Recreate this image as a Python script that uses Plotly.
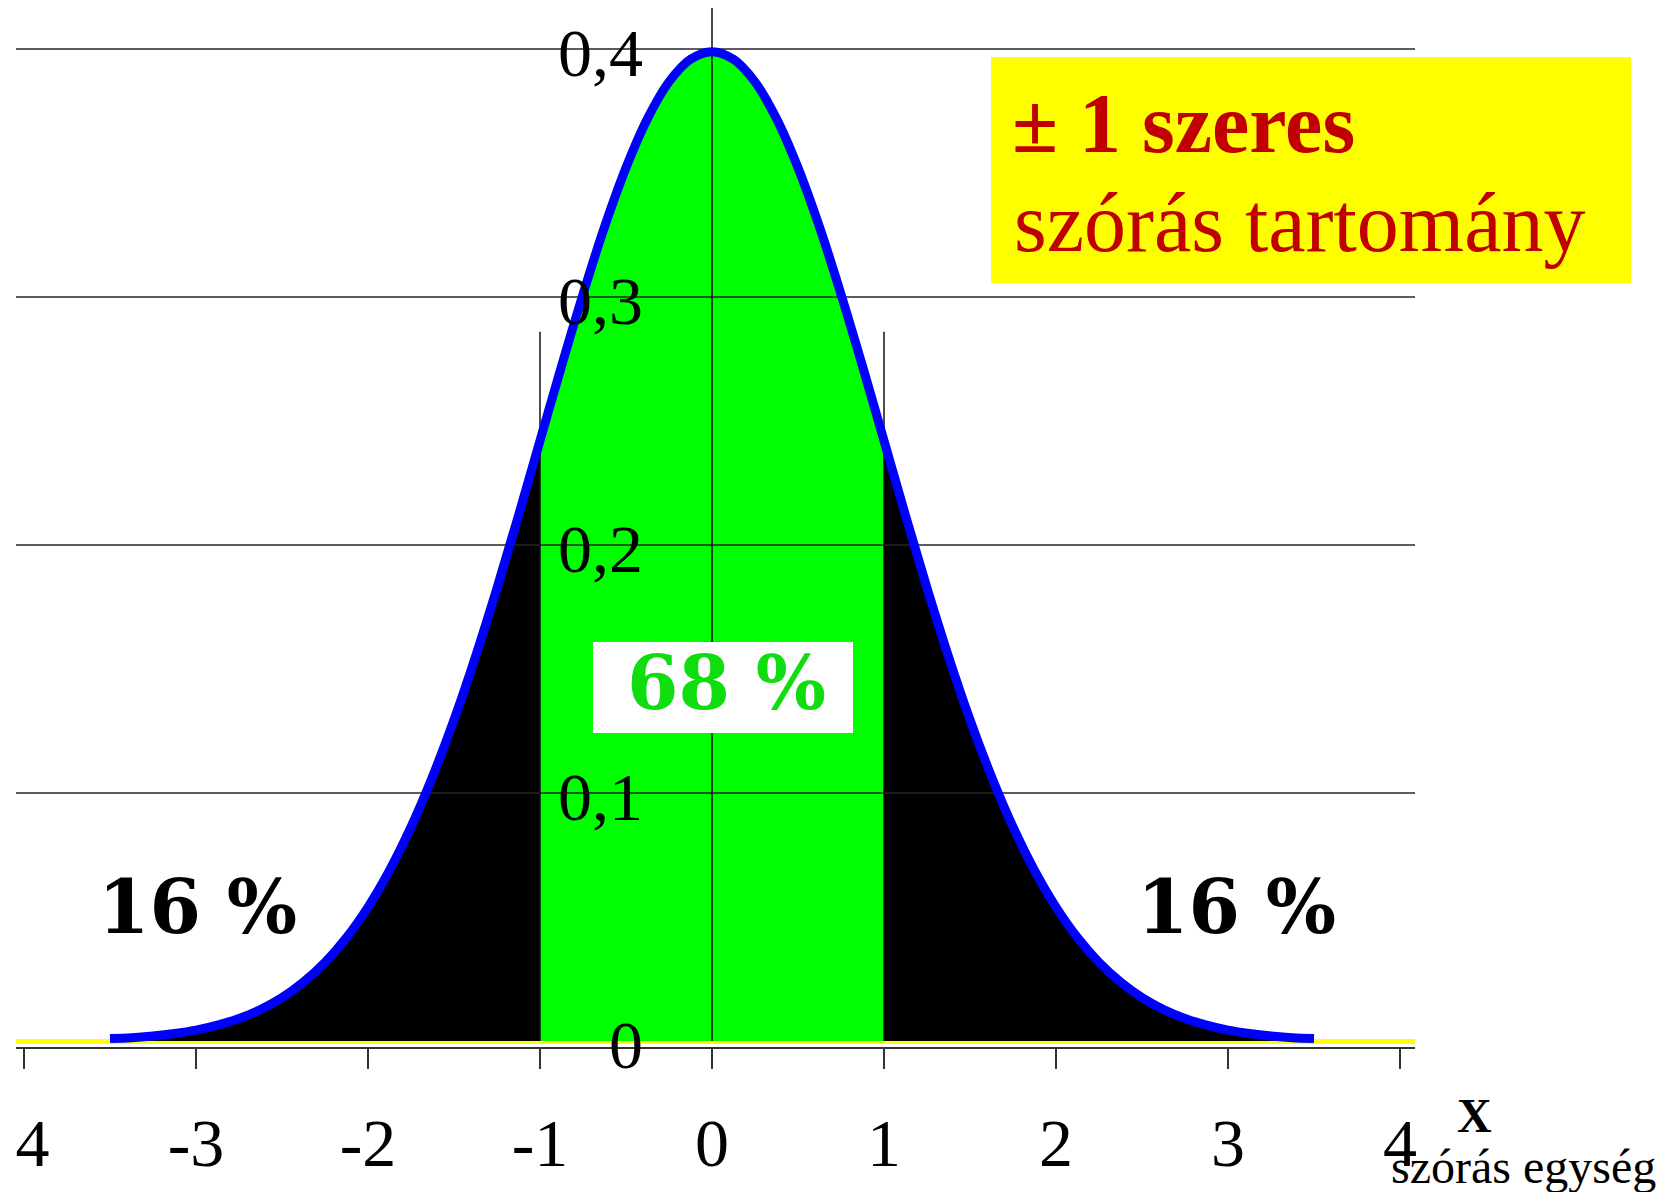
import plotly.graph_objects as go

# curve (density of the standard normal)
x_vals = [-3.5, -3.375, -3.25, -3.125, -3.0, -2.875, -2.75, -2.625, -2.5, -2.375,
          -2.25, -2.125, -2.0, -1.875, -1.75, -1.625, -1.5, -1.375, -1.25, -1.125,
          -1.0, -0.875, -0.75, -0.625, -0.5, -0.375, -0.25, -0.125, 0.0,
          0.125, 0.25, 0.375, 0.5, 0.625, 0.75, 0.875, 1.0,
          1.125, 1.25, 1.375, 1.5, 1.625, 1.75, 1.875, 2.0, 2.125, 2.25,
          2.375, 2.5, 2.625, 2.75, 2.875, 3.0, 3.125, 3.25, 3.375, 3.5]
density = [0.001, 0.0013, 0.002, 0.003, 0.0044, 0.0064, 0.0091, 0.0127, 0.0175, 0.0238,
           0.0317, 0.0417, 0.054, 0.0688, 0.0863, 0.1066, 0.1295, 0.155, 0.1826, 0.2119,
           0.242, 0.2721, 0.3011, 0.3282, 0.3521, 0.3719, 0.3867, 0.3958, 0.3989,
           0.3958, 0.3867, 0.3719, 0.3521, 0.3282, 0.3011, 0.2721, 0.242,
           0.2119, 0.1826, 0.155, 0.1295, 0.1066, 0.0863, 0.0688, 0.054, 0.0417, 0.0317,
           0.0238, 0.0175, 0.0127, 0.0091, 0.0064, 0.0044, 0.003, 0.002, 0.0013, 0.001]

x_ticks = [-4, -3, -2, -1, 0, 1, 2, 3, 4]
# leftmost label shows only "4" (its minus sign is cut off in the original)
x_tick_text = ["\u00a04", "-3", "-2", "-1", "0", "1", "2", "3", "4"]
y_ticks = [0, 0.1, 0.2, 0.3, 0.4]
y_tick_text = ["0", "0,1", "0,2", "0,3", "0,4"]
grid_levels = [0.1, 0.2, 0.3, 0.4]

sigma_lines = [-1, 0, 1]
sigma_line_tops = [0.286, 0.4165, 0.286]

tail_share = "16 %"
middle_share = "68 %"

x_range = [-4.0465, 4.0872]
y_range = [-0.00242, 0.4165]

SERIF = "Liberation Serif"
WIDE_SERIF = "DejaVu Serif"

fig = go.Figure()

# split the curve into the three shaded pieces
left = [(x, y) for x, y in zip(x_vals, density) if x <= -1]
mid = [(x, y) for x, y in zip(x_vals, density) if -1 <= x <= 1]
right = [(x, y) for x, y in zip(x_vals, density) if x >= 1]

for part, color in [(left, "#000000"), (mid, "#00FF00"), (right, "#000000")]:
    fig.add_trace(
        go.Scatter(
            x=[p[0] for p in part],
            y=[p[1] for p in part],
            mode="lines",
            line=dict(width=0, shape="spline"),
            fill="tozeroy",
            fillcolor=color,
            hoverinfo="skip",
        )
    )

# horizontal grid lines, drawn over the fills
gx, gy = [], []
for lv in grid_levels:
    gx += [x_range[0], x_range[1], None]
    gy += [lv, lv, None]
fig.add_trace(
    go.Scatter(x=gx, y=gy, mode="lines", line=dict(color="#262626", width=1.5),
               hoverinfo="skip")
)

# vertical lines at -1, 0, 1
vx, vy = [], []
for xv, top in zip(sigma_lines, sigma_line_tops):
    vx += [xv, xv, None]
    vy += [0, top, None]
fig.add_trace(
    go.Scatter(x=vx, y=vy, mode="lines", line=dict(color="#111111", width=1.5),
               hoverinfo="skip")
)

# the bell curve itself
fig.add_trace(
    go.Scatter(
        x=x_vals,
        y=density,
        mode="lines",
        line=dict(color="#0000FF", width=9, shape="spline"),
        hoverinfo="skip",
    )
)

# white box behind the 68 % label
fig.add_shape(type="rect", xref="x", yref="y", x0=-0.692, x1=0.820, y0=0.1242, y1=0.1609,
              fillcolor="white", line=dict(width=0), layer="above")

# yellow box in the upper right
fig.add_shape(type="rect", xref="paper", yref="paper", x0=0.6969, x1=1.1544,
              y0=0.7353, y1=0.9528, fillcolor="#FFFF00", line=dict(width=0), layer="above")

# y tick labels sit inside the plot, left of the zero line
for yv, txt in zip(y_ticks, y_tick_text):
    fig.add_annotation(x=-0.39, y=yv, text=txt, showarrow=False, xanchor="right",
                       yanchor="middle", yshift=-4,
                       font=dict(family=SERIF, size=68, color="black"))

fig.add_annotation(x=-2.99, y=0.054, text=f"<b>{tail_share}</b>", showarrow=False,
                   xanchor="center", yanchor="middle",
                   font=dict(family=WIDE_SERIF, size=74, color="black"))
fig.add_annotation(x=3.05, y=0.054, text=f"<b>{tail_share}</b>", showarrow=False,
                   xanchor="center", yanchor="middle",
                   font=dict(family=WIDE_SERIF, size=74, color="black"))
fig.add_annotation(x=0.087, y=0.1442, text=f"<b>{middle_share}</b>", showarrow=False,
                   xanchor="center", yanchor="middle",
                   font=dict(family=WIDE_SERIF, size=74, color="#10DD10"))

fig.add_annotation(xref="paper", yref="paper", x=0.7105, y=0.8893, xanchor="left",
                   yanchor="middle", text="<b>± 1 szeres</b>", showarrow=False,
                   font=dict(family=SERIF, size=84, color="#C00000"))
fig.add_annotation(xref="paper", yref="paper", x=0.7119, y=0.7931, xanchor="left",
                   yanchor="middle", text="szórás tartomány", showarrow=False,
                   font=dict(family=SERIF, size=84, color="#C00000"))

fig.add_annotation(xref="paper", yref="paper", x=1.0422, y=-0.0664, text="<b>X</b>",
                   xanchor="center", yanchor="middle",
                   showarrow=False, font=dict(family=SERIF, size=48, color="black"))
fig.add_annotation(xref="paper", yref="paper", x=1.0776, y=-0.1150, text="szórás egység",
                   xanchor="center", yanchor="middle",
                   showarrow=False, font=dict(family=SERIF, size=48, color="black"))

fig.update_layout(
    width=1654,
    height=1184,
    margin=dict(l=8, r=247, t=0, b=145, autoexpand=False),
    plot_bgcolor="white",
    paper_bgcolor="white",
    showlegend=False,
    font=dict(family=SERIF),
    xaxis=dict(
        range=x_range,
        tickvals=x_ticks,
        ticktext=x_tick_text,
        ticks="outside",
        ticklen=20,
        tickwidth=2,
        tickcolor="#333333",
        showline=True,
        linecolor="#333333",
        linewidth=2,
        showgrid=False,
        zeroline=False,
        tickfont=dict(family=SERIF, size=68, color="black"),
        ticklabelstandoff=15,
        ticklabeloverflow="allow",
    ),
    yaxis=dict(
        range=y_range,
        showgrid=False,
        showticklabels=False,
        ticks="",
        zeroline=True,
        zerolinecolor="#FFFF00",
        zerolinewidth=5,
    ),
)

fig.write_html("out.html")
